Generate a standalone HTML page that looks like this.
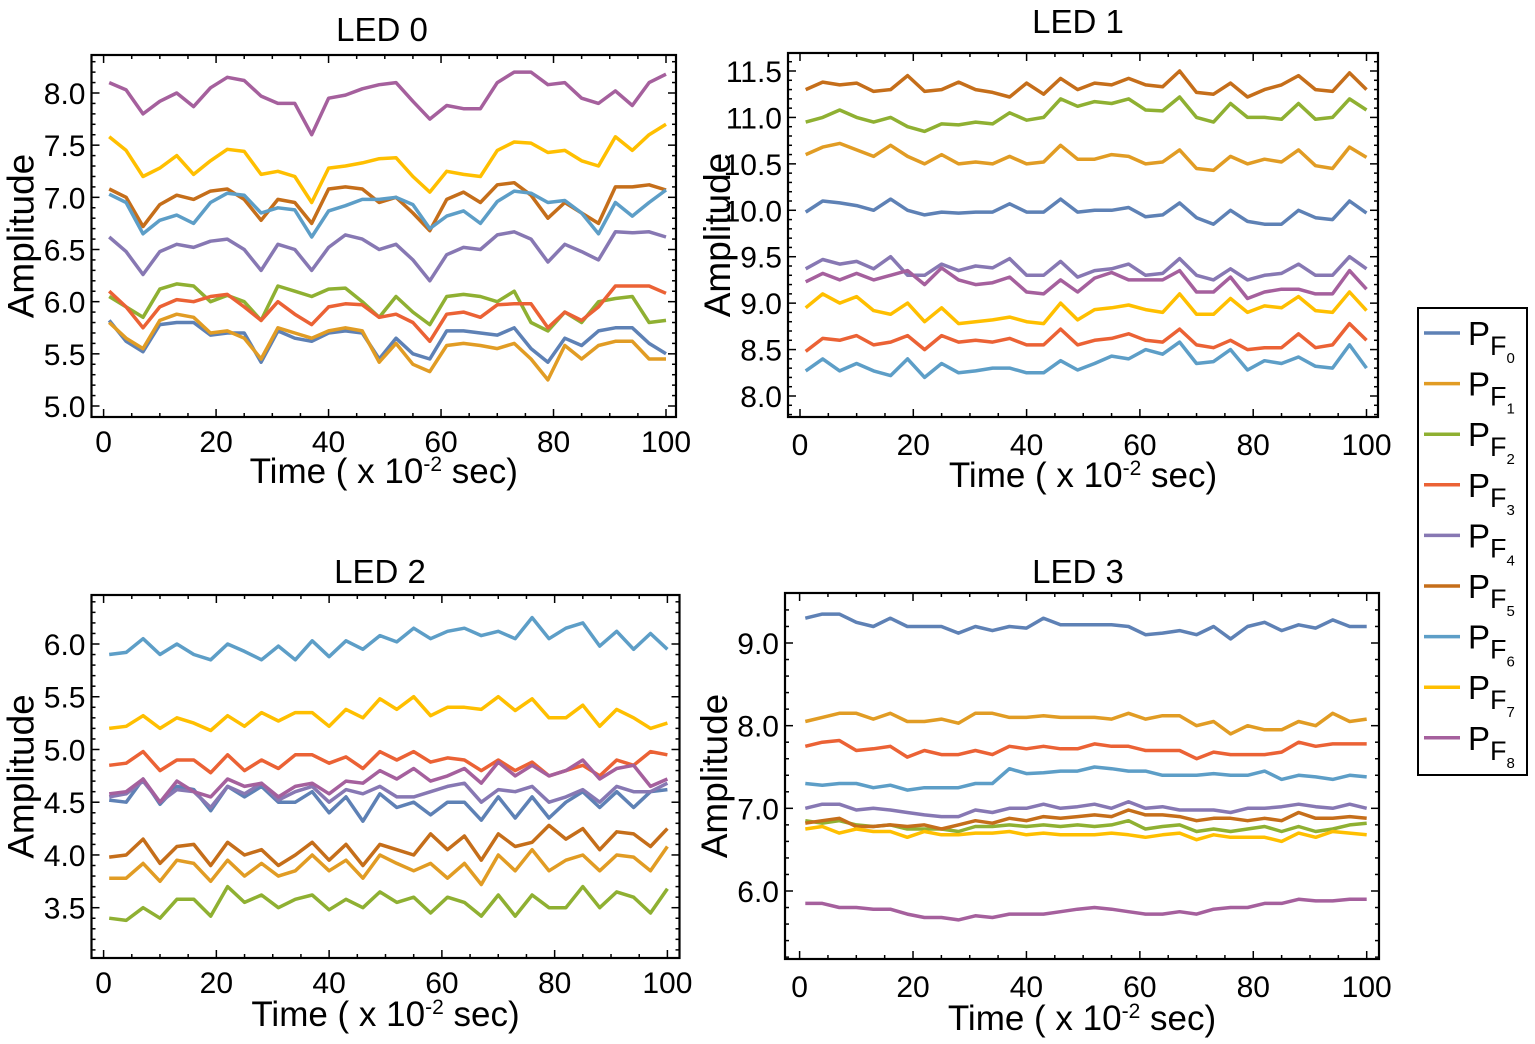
<!DOCTYPE html>
<html><head><meta charset="utf-8"><style>
html,body{margin:0;padding:0;background:#fff;}
svg{display:block;font-family:"Liberation Sans",sans-serif;}
</style></head><body>
<svg id="chart" width="1535" height="1044" viewBox="0 0 1535 1044" xmlns="http://www.w3.org/2000/svg"></svg>
<script>
const xs=[1,4,7,10,13,16,19,22,25,28,31,34,37,40,43,46,49,52,55,58,61,64,67,70,73,76,79,82,85,88,91,94,97,100];
const seriesNames=["PF0","PF1","PF2","PF3","PF4","PF5","PF6","PF7","PF8"];
const colors=["#5E81B5","#E19C24","#8FB032","#EB6235","#8778B3","#C56E1A","#5D9EC7","#FFBF00","#A5609D"];
const xTicks=[0,20,40,60,80,100];
// LED 0
const led0_pf0=[5.82,5.62,5.52,5.78,5.8,5.8,5.68,5.7,5.7,5.42,5.72,5.65,5.62,5.7,5.72,5.7,5.45,5.65,5.5,5.45,5.72,5.72,5.7,5.68,5.75,5.55,5.42,5.65,5.58,5.72,5.75,5.75,5.6,5.5];
const led0_pf1=[5.8,5.65,5.55,5.82,5.88,5.85,5.7,5.72,5.65,5.45,5.75,5.7,5.65,5.72,5.75,5.72,5.42,5.6,5.4,5.33,5.58,5.6,5.58,5.55,5.6,5.45,5.25,5.58,5.45,5.58,5.62,5.62,5.45,5.45];
const led0_pf2=[6.05,5.95,5.85,6.12,6.17,6.15,6.0,6.06,6.0,5.82,6.15,6.1,6.05,6.12,6.13,6.0,5.85,6.05,5.9,5.78,6.05,6.07,6.05,6.0,6.1,5.8,5.72,5.9,5.8,6.0,6.03,6.05,5.8,5.82];
const led0_pf3=[6.1,5.95,5.75,5.95,6.02,6.0,6.05,6.07,5.95,5.82,6.0,5.88,5.78,5.95,5.98,5.97,5.85,5.88,5.8,5.62,5.88,5.9,5.85,5.97,5.98,5.98,5.75,5.9,5.82,5.95,6.15,6.15,6.15,6.08];
const led0_pf4=[6.62,6.48,6.26,6.48,6.55,6.52,6.58,6.6,6.5,6.3,6.55,6.5,6.3,6.52,6.64,6.6,6.5,6.55,6.4,6.2,6.45,6.52,6.5,6.64,6.67,6.6,6.38,6.55,6.48,6.4,6.67,6.66,6.67,6.62];
const led0_pf5=[7.08,7.0,6.72,6.93,7.02,6.98,7.06,7.08,6.98,6.78,6.98,6.95,6.75,7.08,7.1,7.08,6.95,7.0,6.85,6.68,6.98,7.05,6.95,7.12,7.14,7.02,6.8,6.95,6.85,6.75,7.1,7.1,7.12,7.07];
const led0_pf6=[7.03,6.95,6.65,6.78,6.83,6.75,6.95,7.04,7.02,6.85,6.9,6.88,6.62,6.87,6.92,6.98,6.98,7.0,6.93,6.7,6.82,6.87,6.75,6.96,7.06,7.04,6.95,6.97,6.85,6.65,6.95,6.82,6.95,7.07];
const led0_pf7=[7.58,7.45,7.2,7.28,7.4,7.22,7.35,7.46,7.44,7.22,7.25,7.2,6.95,7.28,7.3,7.33,7.37,7.38,7.2,7.05,7.25,7.22,7.2,7.45,7.53,7.52,7.43,7.45,7.35,7.3,7.58,7.45,7.6,7.7];
const led0_pf8=[8.1,8.03,7.8,7.92,8.0,7.87,8.05,8.15,8.12,7.97,7.9,7.9,7.6,7.95,7.98,8.04,8.08,8.1,7.92,7.75,7.88,7.85,7.85,8.1,8.2,8.2,8.08,8.1,7.95,7.9,8.02,7.88,8.1,8.18];
// LED 1
const led1_pf0=[9.98,10.1,10.08,10.05,10.0,10.12,10.0,9.95,9.98,9.97,9.98,9.98,10.07,9.98,9.98,10.12,9.98,10.0,10.0,10.03,9.93,9.95,10.08,9.92,9.85,10.0,9.88,9.85,9.85,10.0,9.92,9.9,10.1,9.97];
const led1_pf1=[10.6,10.68,10.72,10.65,10.58,10.7,10.58,10.5,10.6,10.5,10.52,10.5,10.58,10.5,10.52,10.7,10.55,10.55,10.6,10.58,10.5,10.52,10.65,10.45,10.43,10.58,10.5,10.55,10.52,10.65,10.48,10.45,10.68,10.57];
const led1_pf2=[10.95,11.0,11.08,11.0,10.95,11.0,10.9,10.85,10.93,10.92,10.95,10.93,11.05,10.97,11.0,11.2,11.12,11.17,11.15,11.2,11.08,11.07,11.22,11.0,10.95,11.15,11.0,11.0,10.98,11.15,10.98,11.0,11.2,11.08];
const led1_pf3=[8.48,8.62,8.6,8.65,8.55,8.58,8.65,8.5,8.65,8.58,8.6,8.58,8.62,8.55,8.55,8.72,8.55,8.6,8.62,8.67,8.6,8.58,8.72,8.55,8.52,8.6,8.5,8.52,8.52,8.67,8.52,8.55,8.78,8.6];
const led1_pf4=[9.37,9.47,9.42,9.45,9.37,9.5,9.3,9.3,9.42,9.35,9.4,9.38,9.48,9.3,9.3,9.45,9.28,9.35,9.37,9.42,9.3,9.32,9.48,9.3,9.25,9.37,9.25,9.3,9.32,9.42,9.3,9.3,9.5,9.37];
const led1_pf5=[11.3,11.38,11.35,11.37,11.28,11.3,11.45,11.28,11.3,11.38,11.3,11.27,11.22,11.37,11.25,11.42,11.3,11.37,11.35,11.42,11.35,11.33,11.5,11.27,11.25,11.37,11.22,11.3,11.35,11.45,11.3,11.28,11.48,11.3];
const led1_pf6=[8.27,8.4,8.27,8.35,8.27,8.22,8.4,8.2,8.35,8.25,8.27,8.3,8.3,8.25,8.25,8.38,8.28,8.35,8.43,8.4,8.5,8.45,8.58,8.35,8.37,8.5,8.28,8.38,8.35,8.42,8.32,8.3,8.55,8.3];
const led1_pf7=[8.95,9.1,9.0,9.07,8.92,8.88,9.0,8.8,8.95,8.78,8.8,8.82,8.85,8.8,8.78,9.0,8.82,8.93,8.95,8.98,8.93,8.9,9.1,8.88,8.88,9.05,8.9,8.97,8.95,9.07,8.92,8.9,9.12,8.92];
const led1_pf8=[9.23,9.32,9.25,9.32,9.25,9.3,9.35,9.2,9.38,9.25,9.2,9.22,9.28,9.12,9.1,9.25,9.12,9.27,9.33,9.25,9.25,9.25,9.35,9.12,9.12,9.28,9.05,9.12,9.15,9.15,9.1,9.1,9.35,9.15];
// LED 2
const led2_pf0=[4.52,4.5,4.72,4.48,4.65,4.62,4.42,4.65,4.55,4.65,4.5,4.5,4.6,4.4,4.55,4.32,4.58,4.45,4.5,4.38,4.5,4.5,4.33,4.55,4.35,4.55,4.35,4.5,4.6,4.45,4.6,4.45,4.6,4.62];
const led2_pf1=[3.78,3.78,3.92,3.75,3.95,3.92,3.75,3.95,3.8,3.92,3.8,3.85,4.0,3.85,3.95,3.78,4.0,3.92,3.85,3.92,3.78,3.92,3.72,4.0,3.85,4.05,3.85,3.95,4.0,3.85,4.0,3.98,3.85,4.08];
const led2_pf2=[3.4,3.38,3.5,3.4,3.58,3.58,3.42,3.7,3.55,3.62,3.5,3.58,3.62,3.48,3.58,3.5,3.65,3.55,3.6,3.45,3.6,3.55,3.42,3.62,3.42,3.62,3.5,3.5,3.7,3.5,3.65,3.6,3.45,3.68];
const led2_pf3=[4.85,4.87,4.98,4.8,4.9,4.9,4.78,4.95,4.8,4.9,4.82,4.95,4.95,4.87,4.93,4.82,4.98,4.9,4.98,4.88,4.92,4.9,4.8,4.9,4.8,4.88,4.75,4.8,4.85,4.75,4.9,4.85,4.98,4.95];
const led2_pf4=[4.55,4.58,4.7,4.5,4.62,4.6,4.45,4.65,4.58,4.68,4.52,4.6,4.65,4.5,4.62,4.58,4.65,4.55,4.55,4.6,4.65,4.68,4.5,4.62,4.6,4.65,4.5,4.55,4.62,4.5,4.65,4.6,4.6,4.68];
const led2_pf5=[3.98,4.0,4.15,3.92,4.08,4.1,3.9,4.12,4.0,4.05,3.9,4.0,4.12,3.95,4.1,3.9,4.1,4.05,4.0,4.2,4.05,4.18,3.95,4.2,4.08,4.12,4.28,4.15,4.25,4.05,4.22,4.2,4.08,4.25];
const led2_pf6=[5.9,5.92,6.05,5.9,6.0,5.9,5.85,6.0,5.93,5.85,5.98,5.85,6.03,5.88,6.03,5.95,6.08,6.02,6.15,6.05,6.12,6.15,6.08,6.12,6.05,6.25,6.05,6.15,6.2,5.98,6.12,5.95,6.1,5.95];
const led2_pf7=[5.2,5.22,5.32,5.2,5.3,5.25,5.18,5.32,5.22,5.35,5.27,5.35,5.35,5.22,5.38,5.3,5.48,5.38,5.5,5.32,5.4,5.4,5.38,5.5,5.37,5.48,5.3,5.3,5.42,5.22,5.38,5.3,5.2,5.25];
const led2_pf8=[4.58,4.6,4.72,4.5,4.7,4.6,4.55,4.72,4.65,4.68,4.55,4.65,4.68,4.58,4.7,4.68,4.8,4.72,4.82,4.7,4.75,4.82,4.68,4.88,4.75,4.85,4.75,4.8,4.9,4.72,4.82,4.85,4.65,4.72];
// LED 3
const led3_pf0=[9.3,9.35,9.35,9.25,9.2,9.3,9.2,9.2,9.2,9.12,9.2,9.15,9.2,9.18,9.3,9.22,9.22,9.22,9.22,9.2,9.1,9.12,9.15,9.1,9.2,9.05,9.2,9.25,9.15,9.22,9.18,9.28,9.2,9.2];
const led3_pf1=[8.05,8.1,8.15,8.15,8.08,8.15,8.05,8.05,8.08,8.03,8.15,8.15,8.1,8.1,8.12,8.1,8.1,8.1,8.08,8.15,8.08,8.12,8.12,8.0,8.05,7.9,8.0,7.95,7.95,8.05,8.0,8.15,8.05,8.08];
const led3_pf2=[6.85,6.82,6.85,6.8,6.78,6.8,6.75,6.75,6.75,6.72,6.78,6.78,6.8,6.78,6.8,6.78,6.8,6.78,6.8,6.85,6.75,6.78,6.8,6.72,6.75,6.72,6.75,6.78,6.72,6.78,6.72,6.75,6.8,6.82];
const led3_pf3=[7.75,7.8,7.82,7.7,7.72,7.75,7.62,7.7,7.65,7.65,7.7,7.65,7.75,7.72,7.75,7.72,7.72,7.78,7.75,7.75,7.7,7.7,7.7,7.6,7.68,7.65,7.65,7.65,7.68,7.8,7.75,7.78,7.78,7.78];
const led3_pf4=[7.0,7.05,7.05,6.98,7.0,6.98,6.95,6.92,6.9,6.9,6.98,6.95,7.0,7.0,7.05,7.0,7.02,7.05,7.0,7.08,7.0,7.02,6.98,6.98,6.98,6.95,7.0,7.0,7.02,7.05,7.02,7.0,7.05,7.0];
const led3_pf5=[6.82,6.85,6.88,6.78,6.78,6.8,6.78,6.8,6.75,6.8,6.85,6.82,6.88,6.85,6.9,6.88,6.9,6.92,6.9,6.98,6.92,6.92,6.9,6.85,6.88,6.88,6.85,6.88,6.85,6.95,6.88,6.88,6.9,6.88];
const led3_pf6=[7.3,7.28,7.3,7.3,7.25,7.28,7.22,7.25,7.25,7.25,7.3,7.3,7.48,7.42,7.43,7.45,7.45,7.5,7.48,7.45,7.45,7.4,7.4,7.4,7.42,7.4,7.4,7.45,7.35,7.4,7.38,7.35,7.4,7.38];
const led3_pf7=[6.75,6.78,6.7,6.75,6.72,6.72,6.65,6.72,6.68,6.68,6.7,6.7,6.72,6.68,6.7,6.68,6.68,6.68,6.7,6.68,6.65,6.68,6.7,6.62,6.68,6.65,6.65,6.65,6.6,6.7,6.65,6.72,6.7,6.68];
const led3_pf8=[5.85,5.85,5.8,5.8,5.78,5.78,5.72,5.68,5.68,5.65,5.7,5.68,5.72,5.72,5.72,5.75,5.78,5.8,5.78,5.75,5.72,5.72,5.75,5.72,5.78,5.8,5.8,5.85,5.85,5.9,5.88,5.88,5.9,5.9];
const led0_yTicks=[5.0,5.5,6.0,6.5,7.0,7.5,8.0];
const led1_yTicks=[8.0,8.5,9.0,9.5,10.0,10.5,11.0,11.5];
const led2_yTicks=[3.5,4.0,4.5,5.0,5.5,6.0];
const led3_yTicks=[6.0,7.0,8.0,9.0];

const NS="http://www.w3.org/2000/svg";
const svg=document.getElementById('chart');
function el(tag,attrs,parent,text){const e=document.createElementNS(NS,tag);for(const k in attrs)e.setAttribute(k,attrs[k]);if(text!==undefined)e.textContent=text;(parent||svg).appendChild(e);return e;}

const panels=[
 {title:"LED 0",series:[led0_pf0,led0_pf1,led0_pf2,led0_pf3,led0_pf4,led0_pf5,led0_pf6,led0_pf7,led0_pf8],yTicks:led0_yTicks,
  box:[91.5,55,676,417],x0:103.6,x100:666,yv:[5.0,8.0],yp:[406,93],minor:0.1,tx:382,ty:41,xly:452,xty:483},
 {title:"LED 1",series:[led1_pf0,led1_pf1,led1_pf2,led1_pf3,led1_pf4,led1_pf5,led1_pf6,led1_pf7,led1_pf8],yTicks:led1_yTicks,
  box:[788,53,1378,417],x0:800,x100:1366.5,yv:[8.0,11.5],yp:[396,71],minor:0.1,tx:1078,ty:33,xly:455,xty:487},
 {title:"LED 2",series:[led2_pf0,led2_pf1,led2_pf2,led2_pf3,led2_pf4,led2_pf5,led2_pf6,led2_pf7,led2_pf8],yTicks:led2_yTicks,
  box:[91.5,595,679.5,958],x0:103.6,x100:667.4,yv:[3.5,6.0],yp:[907.7,644],minor:0.1,tx:380,ty:583,xly:993,xty:1026},
 {title:"LED 3",series:[led3_pf0,led3_pf1,led3_pf2,led3_pf3,led3_pf4,led3_pf5,led3_pf6,led3_pf7,led3_pf8],yTicks:led3_yTicks,
  box:[785,593,1379,959],x0:799.6,x100:1366.7,yv:[6.0,9.0],yp:[891,643],minor:0.2,tx:1078,ty:583,xly:997,xty:1030}
];

panels.forEach((p,pi)=>{
 const g=el('g',{});
 
 
 const [L,T,R,B]=p.box;
 const xS=v=>p.x0+(p.x100-p.x0)*v/100;
 const yS=v=>p.yp[0]+(p.yp[1]-p.yp[0])*(v-p.yv[0])/(p.yv[1]-p.yv[0]);
 const t=el('text',{x:p.tx,y:p.ty,'font-size':33,'text-anchor':'middle',fill:'#000'},g,p.title);
 
 
 p.series.forEach((s,si)=>{
  const d=s.map((v,i)=>(i?'L':'M')+xS(xs[i]).toFixed(1)+' '+yS(v).toFixed(1)).join(' ');
  const path=el('path',{d:d,fill:'none',stroke:colors[si],'stroke-width':3.5,'stroke-linejoin':'round'},g);
  
  
 });
 const fr=el('rect',{x:L,y:T,width:R-L,height:B-T,fill:'none',stroke:'#000','stroke-width':2.2},g);
 
 
 for(let v=0;v<=100;v+=5){
  const x=xS(v);const len=(v%20===0)?8:4;
  el('line',{x1:x,y1:B,x2:x,y2:B-len,stroke:'#000','stroke-width':1.5},g);
  el('line',{x1:x,y1:T,x2:x,y2:T+len,stroke:'#000','stroke-width':1.5},g);
 }
 xTicks.forEach(v=>{
  const tl=el('text',{x:xS(v),y:p.xly,'font-size':30,'text-anchor':'middle'},g,String(v));
  
  
 });
 for(let k=0;k<200;k++){
  const v=Math.round((p.yv[0]-1+k*p.minor)*100)/100;
  const y=yS(v);if(y<T+1||y>B-1)continue;
  const maj=p.yTicks.some(t=>Math.abs(t-v)<1e-6);const len=maj?8:4;
  el('line',{x1:L,y1:y,x2:L+len,y2:y,stroke:'#000','stroke-width':1.5},g);
  el('line',{x1:R,y1:y,x2:R-len,y2:y,stroke:'#000','stroke-width':1.5},g);
 }
 p.yTicks.forEach(v=>{
  const tl=el('text',{x:L-6,y:yS(v)+11,'font-size':30,'text-anchor':'end'},g,v.toFixed(1));
  
  
 });
 const cx=(L+R)/2;
 const xt=el('text',{x:cx,y:p.xty,'font-size':35,'text-anchor':'middle'},g);
 
 
 el('tspan',{},xt,'Time ( x 10');
 el('tspan',{dy:-12,'font-size':21},xt,'-2');
 el('tspan',{dy:12},xt,' sec)');
 const cy=(T+B)/2;const ax=L-58;
 const yt=el('text',{x:ax,y:cy,'font-size':37,'text-anchor':'middle',transform:`rotate(-90 ${ax} ${cy})`},g,'Amplitude');
 
 
});

const lg=el('g',{});


const lb=el('rect',{x:1418,y:308,width:109,height:467,fill:'#fff',stroke:'#000','stroke-width':2},lg);


seriesNames.forEach((n,i)=>{
 const y=333+i*50.6;
 const e=el('g',{},lg);
 
 
 el('line',{x1:1424,y1:y,x2:1460,y2:y,stroke:colors[i],'stroke-width':3.5},e);
 const tx=el('text',{x:1468,y:y+12,'font-size':33},e);
 el('tspan',{},tx,'P');
 el('tspan',{dy:10,'font-size':27},tx,'F');
 el('tspan',{dy:8,'font-size':15},tx,String(i));
});
</script>
</body></html>
